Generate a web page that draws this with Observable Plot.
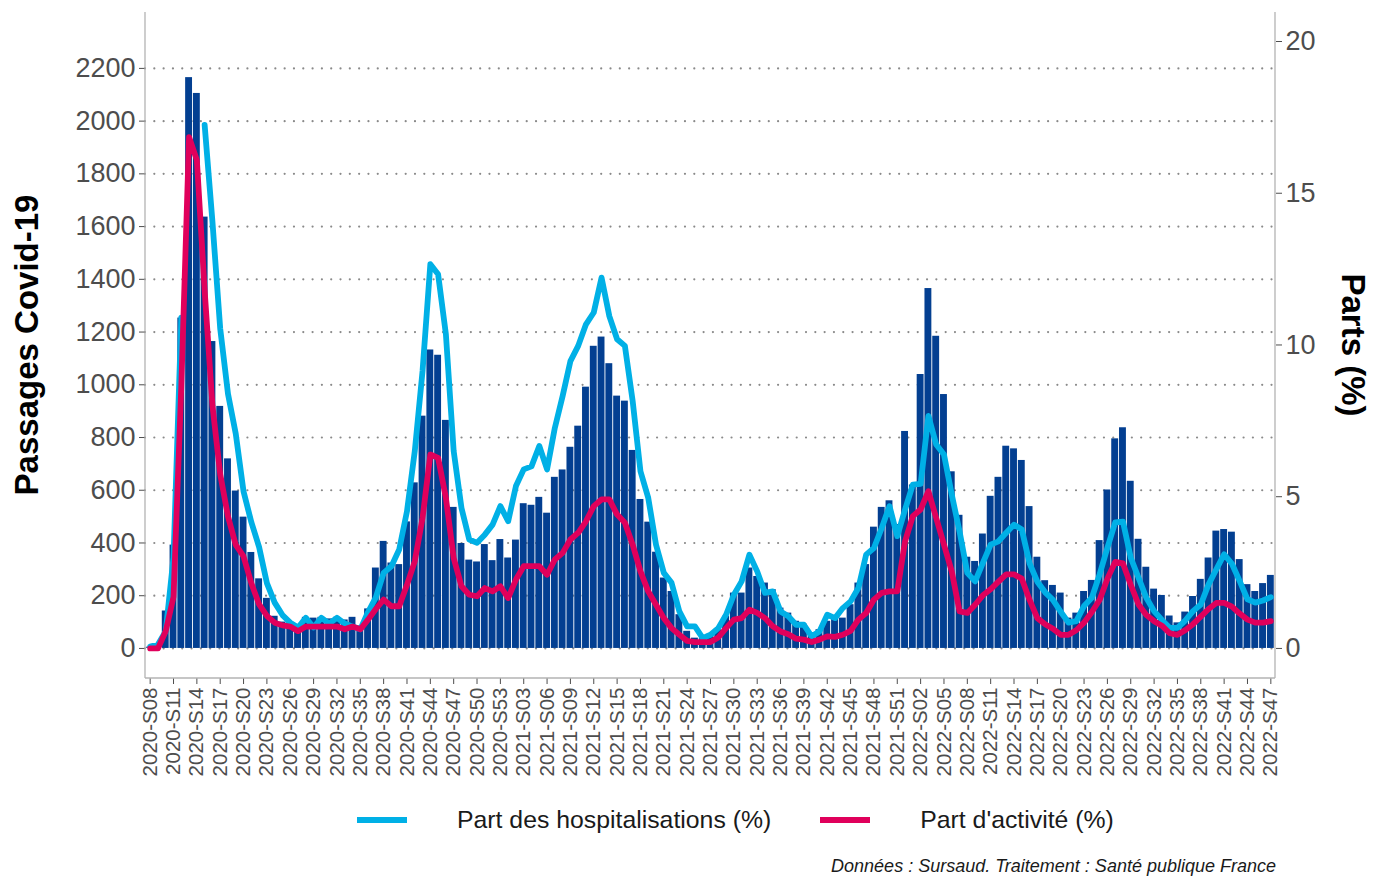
<!DOCTYPE html>
<html><head><meta charset="utf-8">
<script src="https://cdn.jsdelivr.net/npm/d3@7"></script>
<script src="https://cdn.jsdelivr.net/npm/@observablehq/plot@0.6"></script>
<style>
body{margin:0;background:#fff;font-family:"Liberation Sans",Arial,sans-serif;}
#wrap{position:relative;width:1375px;height:876px;overflow:hidden;}
#legend{position:absolute;left:357px;top:805px;display:flex;align-items:center;font-size:24.8px;color:#1a1a1a;line-height:30px;}
.item{display:flex;align-items:center;margin-right:49px;}
.sw{width:50px;height:6px;margin-right:50px;}
#caption{position:absolute;right:99px;top:856px;font-size:18px;font-style:italic;color:#1a1a1a;line-height:20px;}
</style></head>
<body><div id="wrap"><div id="chart"></div><div id="legend"></div><div id="caption"></div></div>
<script>
const weeks = [
"2020-S08","2020-S09","2020-S10","2020-S11","2020-S12","2020-S13","2020-S14","2020-S15","2020-S16","2020-S17",
"2020-S18","2020-S19","2020-S20","2020-S21","2020-S22","2020-S23","2020-S24","2020-S25","2020-S26","2020-S27",
"2020-S28","2020-S29","2020-S30","2020-S31","2020-S32","2020-S33","2020-S34","2020-S35","2020-S36","2020-S37",
"2020-S38","2020-S39","2020-S40","2020-S41","2020-S42","2020-S43","2020-S44","2020-S45","2020-S46","2020-S47",
"2020-S48","2020-S49","2020-S50","2020-S51","2020-S52","2020-S53",
"2021-S01","2021-S02","2021-S03","2021-S04","2021-S05","2021-S06","2021-S07","2021-S08","2021-S09","2021-S10",
"2021-S11","2021-S12","2021-S13","2021-S14","2021-S15","2021-S16","2021-S17","2021-S18","2021-S19","2021-S20",
"2021-S21","2021-S22","2021-S23","2021-S24","2021-S25","2021-S26","2021-S27","2021-S28","2021-S29","2021-S30",
"2021-S31","2021-S32","2021-S33","2021-S34","2021-S35","2021-S36","2021-S37","2021-S38","2021-S39","2021-S40",
"2021-S41","2021-S42","2021-S43","2021-S44","2021-S45","2021-S46","2021-S47","2021-S48","2021-S49","2021-S50",
"2021-S51","2021-S52",
"2022-S01","2022-S02","2022-S03","2022-S04","2022-S05","2022-S06","2022-S07","2022-S08","2022-S09","2022-S10",
"2022-S11","2022-S12","2022-S13","2022-S14","2022-S15","2022-S16","2022-S17","2022-S18","2022-S19","2022-S20",
"2022-S21","2022-S22","2022-S23","2022-S24","2022-S25","2022-S26","2022-S27","2022-S28","2022-S29","2022-S30",
"2022-S31","2022-S32","2022-S33","2022-S34","2022-S35","2022-S36","2022-S37","2022-S38","2022-S39","2022-S40",
"2022-S41","2022-S42","2022-S43","2022-S44","2022-S45","2022-S46","2022-S47"];

const passages = [5,15,142,392,1253,2165,2105,1636,1164,918,
719,597,498,364,264,190,122,100,100,90,
118,115,118,112,118,108,118,85,150,305,
406,324,318,480,628,881,1132,1112,865,535,
398,335,328,394,333,413,343,411,549,543,
573,513,649,677,763,843,991,1146,1181,1080,
957,938,751,565,479,365,267,216,128,65,
39,37,54,71,122,210,210,305,273,248,
223,153,134,103,92,52,71,103,110,115,
166,248,318,460,535,560,470,823,620,1039,
1365,1184,963,670,505,346,330,434,577,649,
767,757,713,538,346,257,239,210,115,134,
216,258,409,601,795,837,634,414,308,225,
201,123,97,138,197,262,343,445,451,441,
337,242,216,246,277];

const partHospit = [0.06,0.13,0.57,3.0,10.9,null,null,17.25,14.07,10.54,
8.39,7.07,5.17,4.16,3.34,2.15,1.51,1.10,0.85,0.69,
1.01,0.69,1.01,0.82,1.01,0.82,0.72,0.63,1.2,1.68,
2.49,2.71,3.26,4.52,6.5,9.14,12.66,12.33,10.35,6.5,
4.63,3.59,3.48,3.75,4.08,4.69,4.19,5.35,5.9,6.0,
6.67,5.9,7.27,8.32,9.47,9.97,10.68,11.07,12.22,10.95,
10.19,9.97,8.15,5.84,4.96,3.42,2.49,2.16,1.22,0.73,
0.73,0.34,0.45,0.67,1.11,1.77,2.21,3.09,2.54,1.83,
1.88,1.22,1.06,0.78,0.78,0.40,0.56,1.11,1.0,1.33,
1.55,1.99,3.09,3.31,3.97,4.69,3.7,4.58,5.4,5.42,
7.66,6.72,6.39,5.07,3.86,2.49,2.21,2.82,3.42,3.53,
3.81,4.08,3.92,2.8,2.2,1.85,1.6,1.21,0.85,0.90,
1.40,1.67,2.44,3.32,4.15,4.18,2.99,2.33,1.67,1.23,
0.94,0.68,0.68,0.92,1.23,1.45,2.11,2.61,3.10,2.79,
2.22,1.62,1.51,1.58,1.69];

const partActivite = [0,0,0.57,1.7,8.64,16.85,16.09,11.8,8.01,5.74,
4.35,3.41,3.03,2.15,1.45,1.07,0.85,0.76,0.72,0.57,
0.72,0.72,0.72,0.72,0.72,0.63,0.72,0.63,0.95,1.3,
1.61,1.39,1.39,2.1,2.87,4.3,6.39,6.28,4.96,2.98,
2.05,1.77,1.72,1.99,1.88,2.05,1.66,2.27,2.71,2.71,
2.71,2.43,2.93,3.15,3.59,3.81,4.19,4.69,4.91,4.91,
4.41,4.14,3.42,2.54,1.88,1.44,1.0,0.67,0.45,0.25,
0.21,0.21,0.21,0.36,0.67,0.95,1.0,1.28,1.17,1.0,
0.73,0.56,0.47,0.32,0.29,0.21,0.29,0.40,0.38,0.45,
0.58,0.95,1.17,1.61,1.83,1.88,1.88,3.53,4.36,4.58,
5.18,4.30,3.42,2.54,1.22,1.17,1.44,1.75,1.95,2.2,
2.44,2.44,2.3,1.6,1.0,0.8,0.65,0.45,0.45,0.6,
0.85,1.2,1.6,2.3,2.85,2.8,2.1,1.45,1.1,0.9,
0.75,0.5,0.45,0.6,0.8,1.05,1.3,1.5,1.5,1.38,
1.15,0.95,0.85,0.85,0.9];

const leftTicks = [0,200,400,600,800,1000,1200,1400,1600,1800,2000,2200];
const rightTicks = [0,5,10,15,20];
const seriesNames = ["Part des hospitalisations (%)", "Part d'activité (%)"];
const seriesColors = ["#00b0e6", "#e0005b"];
const barColor = "#033f91";
const leftTitle = "Passages Covid-19";
const rightTitle = "Parts (%)";
const captionText = "Données : Sursaud. Traitement : Santé publique France";

const K = 115.1; // left-axis units per percentage point (secondary axis factor)

const rows = weeks.map((w, i) => ({i, week: w, passages: passages[i], hosp: partHospit[i], act: partActivite[i]}));
const xTicks = weeks.map((w, i) => i).filter(i => i % 3 === 0);

const chart = Plot.plot({
  width: 1375, height: 790,
  marginLeft: 145, marginRight: 100, marginTop: 12, marginBottom: 112,
  style: {fontFamily: "Liberation Sans, Arial, sans-serif", background: "white"},
  x: {domain: [-0.6, weeks.length - 0.4], label: null},
  y: {domain: [-114, 2412], label: null},
  marks: [
    Plot.ruleY(leftTicks, {stroke: "#8a8a8a", strokeWidth: 2.2, strokeDasharray: "0.01 9.3", strokeLinecap: "round"}),
    Plot.rect(rows, {x1: d => d.i - 0.5, x2: d => d.i + 0.5, y1: 0, y2: "passages", fill: barColor, insetLeft: 0.45, insetRight: 0.45}),
    Plot.line(rows, {x: "i", y: d => d.hosp == null ? NaN : d.hosp * K, stroke: seriesColors[0], strokeWidth: 5.8}),
    Plot.line(rows, {x: "i", y: d => d.act * K, stroke: seriesColors[1], strokeWidth: 5.8}),
    Plot.axisY(leftTicks, {anchor: "left", tickSize: 6, tickPadding: 4, fontSize: 27, color: "#4d4d4d", tickFormat: v => String(v), label: null}),
    Plot.axisY(rightTicks.map(v => v * K), {anchor: "right", tickSize: 6, tickPadding: 4, fontSize: 27, color: "#4d4d4d", tickFormat: v => String(Math.round(v / K)), label: null}),
    Plot.axisX(xTicks, {anchor: "bottom", tickSize: 6, tickPadding: 3, tickRotate: -90, fontSize: 20.5, color: "#4d4d4d", tickFormat: i => weeks[i], label: null})
  ]
});
document.getElementById("chart").appendChild(chart);

// axis lines and titles
const svg = d3.select(chart);
const [x0, x1] = chart.scale("x").range;
const [yb, yt] = chart.scale("y").range;
const g = svg.append("g").attr("stroke", "#b3b3b3").attr("stroke-width", 1.3);
g.append("line").attr("x1", x0).attr("x2", x0).attr("y1", yt).attr("y2", yb);
g.append("line").attr("x1", x1).attr("x2", x1).attr("y1", yt).attr("y2", yb);
g.append("line").attr("x1", x0).attr("x2", x1).attr("y1", yb).attr("y2", yb);
const yc = (yt + yb) / 2;
svg.append("text").text(leftTitle).attr("transform", `translate(38,${yc}) rotate(-90)`)
  .attr("text-anchor", "middle").attr("font-size", 33).attr("font-weight", "bold").attr("fill", "#000");
svg.append("text").text(rightTitle).attr("transform", `translate(1342,${yc}) rotate(90)`)
  .attr("text-anchor", "middle").attr("font-size", 33).attr("font-weight", "bold").attr("fill", "#000");

// legend
const legend = d3.select("#legend");
seriesNames.forEach((name, k) => {
  const it = legend.append("div").attr("class", "item");
  it.append("div").attr("class", "sw").style("background", seriesColors[k]);
  it.append("span").text(name);
});
d3.select("#caption").text(captionText);
</script>
</body></html>
